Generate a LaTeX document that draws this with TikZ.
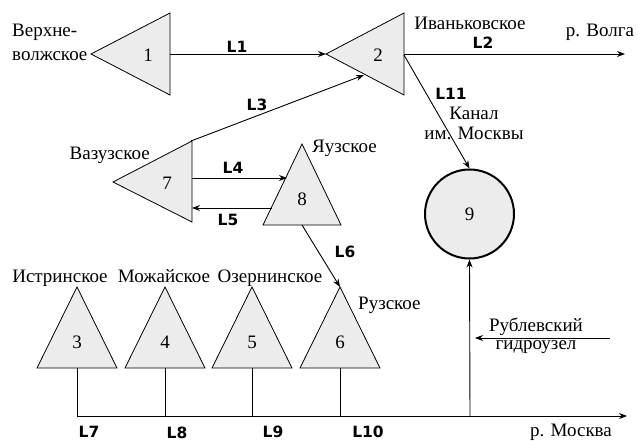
\documentclass[tikz,border=0pt]{standalone}
\usepackage{fontspec}
\setmainfont{Liberation Serif}
\newfontfamily\lblfont{DejaVu Sans}
\usetikzlibrary{arrows.meta}
\begin{document}
\begin{tikzpicture}[x=1pt,y=-1pt,
  res/.style={draw=black,line width=0.8pt,fill=gray!15,line join=miter},
  flow/.style={draw,line width=0.9pt,-{Stealth[length=8pt,width=6pt]}},
  plain/.style={draw,line width=0.9pt},
  txt/.style={font=\fontsize{19}{21}\selectfont,inner sep=0pt},
  lbl/.style={font=\lblfont\bfseries\fontsize{15.5}{16}\selectfont,inner sep=0pt},
  num/.style={font=\fontsize{19}{21}\selectfont,inner sep=0pt}]
\useasboundingbox (0,0) rectangle (638,441);
% triangle vertices
\coordinate (t1a) at (91,54);  \coordinate (t1b) at (170,13);  \coordinate (t1c) at (170,95);
\coordinate (t2a) at (326,54); \coordinate (t2b) at (404,13);  \coordinate (t2c) at (404,95);
\coordinate (t7a) at (113,182);\coordinate (t7b) at (192,141); \coordinate (t7c) at (192,222);
\coordinate (t8a) at (302,144);\coordinate (t8b) at (263,225); \coordinate (t8c) at (341,225);
\coordinate (t3a) at (77,287); \coordinate (t3b) at (37,368);  \coordinate (t3c) at (117,368);
\coordinate (t4a) at (165,287);\coordinate (t4b) at (125,368); \coordinate (t4c) at (205,368);
\coordinate (t5a) at (252,287);\coordinate (t5b) at (212,368); \coordinate (t5c) at (292,368);
\coordinate (t6a) at (340,287);\coordinate (t6b) at (300,368); \coordinate (t6c) at (380,368);
\foreach \t in {1,2,7,8,3,4,5,6}{\path[res] (t\t a) -- (t\t b) -- (t\t c) -- cycle;}
\node[num] (n1) at (148,55) {1};
\node[num] (n2) at (378,55) {2};
\node[num] (n7) at (167,183) {7};
\node[num] (n8) at (302,199) {8};
\node[num] (n3) at (77,342) {3};
\node[num] (n4) at (165,342) {4};
\node[num] (n5) at (252,342) {5};
\node[num] (n6) at (340,342) {6};
\node[circle,draw,line width=2pt,fill=gray!15,minimum size=89pt,inner sep=0pt,font=\fontsize{19}{21}\selectfont] (n9) at (469.5,214) {9};
% connector points
\coordinate (l1s) at (170,54);
\coordinate (l2s) at (404,54); \coordinate (l2e) at (625,54);
\coordinate (l3s) at (191,141); \coordinate (l3e) at (364,75);
\coordinate (l11s) at (404,55);
\coordinate (l4s) at (192,178); \coordinate (l4e) at (287,178);
\coordinate (l5s) at (272,208); \coordinate (l5e) at (192,208);
\coordinate (l6s) at (302,225);
\coordinate (b3) at (77,368); \coordinate (b4) at (165,368); \coordinate (b5) at (252,368); \coordinate (b6) at (340,368);
\coordinate (r3) at (77,416); \coordinate (r4) at (165,416); \coordinate (r5) at (252,416); \coordinate (r6) at (340,416);
\coordinate (r9) at (470,416); \coordinate (rend) at (627,416);
\coordinate (rubs) at (610,338); \coordinate (rube) at (475,338);
\path[flow] (l1s) -- (t2a);
\path[flow] (l2s) -- (l2e);
\path[flow] (l3s) -- (l3e);
\path[flow] (l11s) -- (n9.north);
\path[flow] (l4s) -- (l4e);
\path[flow] (l5s) -- (l5e);
\path[flow] (l6s) -- (t6a);
\path[plain] (b3) -- (r3);
\path[flow] (r3) -- (rend);
\path[plain] (b4) -- (r4);
\path[plain] (b5) -- (r5);
\path[plain] (b6) -- (r6);
\path[flow] (r9) -- (n9.south);
\path[flow] (rubs) -- (rube);
% labels
\node[lbl] (L1) at (237,47) {L1};
\node[lbl] (L2) at (483,43) {L2};
\node[lbl] (L3) at (257,105) {L3};
\node[lbl] (L11) at (451,94) {L11};
\node[lbl] (L4) at (233,168) {L4};
\node[lbl] (L5) at (228,220) {L5};
\node[lbl] (L6) at (345,252) {L6};
\node[lbl] (L7) at (89,432) {L7};
\node[lbl] (L8) at (177,433) {L8};
\node[lbl] (L9) at (273,432) {L9};
\node[lbl] (L10) at (368,432) {L10};
% texts
\node[txt,anchor=west] (tv1) at (12,32) {Верхне-};
\node[txt,anchor=west] (tv2) at (12,56) {волжское};
\node[txt] (tiv) at (470,23) {Иваньковское};
\node[txt] (tvol) at (600,32) {р. Волга};
\node[txt] (tkan) at (474,113) {Канал};
\node[txt] (tim) at (474,133) {им. Москвы};
\node[txt,anchor=east] (tvaz) at (150,155) {Вазузское};
\node[txt,anchor=west] (tyau) at (312,148) {Яузское};
\node[txt,anchor=base] (tist) at (60,283) {Истринское};
\node[txt,anchor=base] (tmoz) at (164,283) {Можайское};
\node[txt,anchor=base] (toz) at (270,283) {Озернинское};
\node[txt,anchor=west] (truz) at (358,305) {Рузское};
\node[txt] (trub1) at (536,327) {Рублевский};
\node[txt] (trub2) at (536,347) {гидроузел};
\node[txt] (tmos) at (571,432) {р. Москва};
\end{tikzpicture}
\end{document}
